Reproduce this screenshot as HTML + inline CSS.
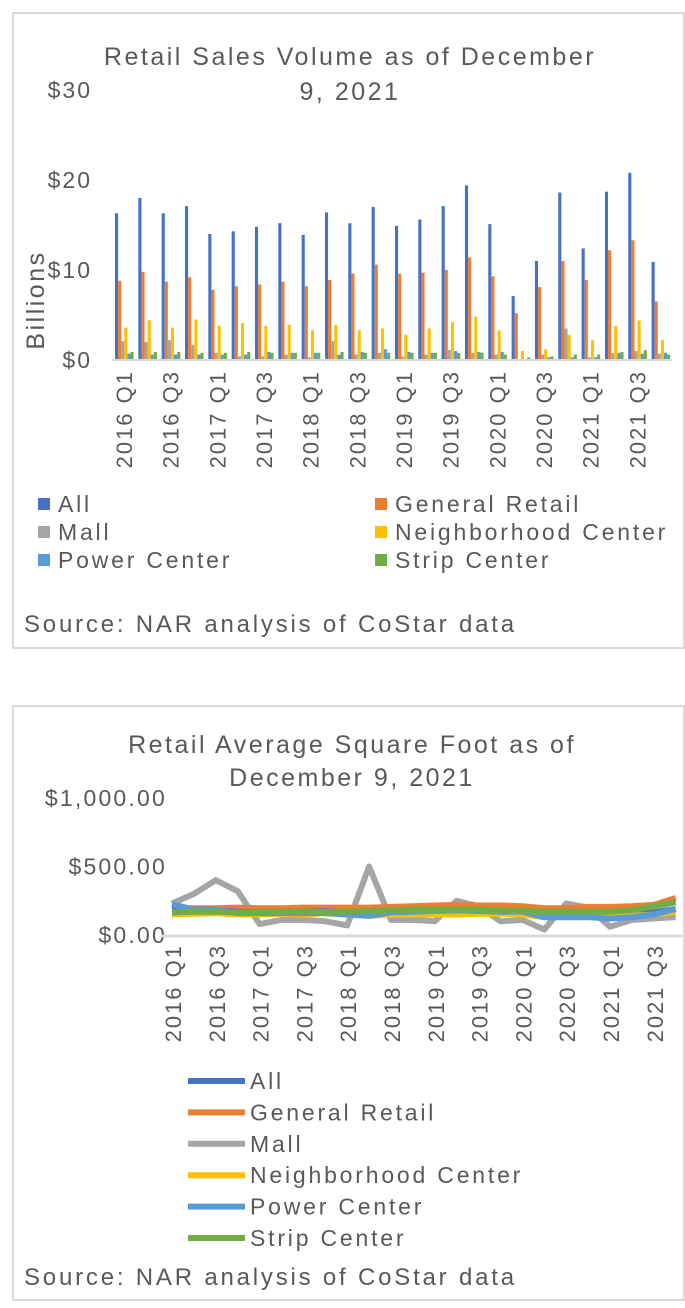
<!DOCTYPE html>
<html><head><meta charset="utf-8">
<style>
html,body{margin:0;padding:0;background:#fff;}
body{width:685px;height:1308px;position:relative;overflow:hidden;font-family:"Liberation Sans",sans-serif;}
svg{position:absolute;left:0;top:0;}
text{font-family:"Liberation Sans",sans-serif;fill:#595959;}
</style></head><body>
<svg id="s" width="685" height="1308">
<rect x="13" y="13" width="671" height="635" fill="#fff" stroke="#d9d9d9" stroke-width="2"/>
<rect x="13" y="706" width="671" height="594" fill="#fff" stroke="#d9d9d9" stroke-width="2"/>
<text x="350" y="65" font-size="25" text-anchor="middle" letter-spacing="2.5">Retail Sales Volume as of December</text>
<text x="350" y="100" font-size="25" text-anchor="middle" letter-spacing="2.5">9, 2021</text>
<text x="44" y="300" font-size="25" text-anchor="middle" letter-spacing="2.5" transform="rotate(-90 44 300)">Billions</text>
<text x="24" y="632" font-size="24" letter-spacing="2.8">Source: NAR analysis of CoStar data</text>
<text x="352" y="753" font-size="25" text-anchor="middle" letter-spacing="2.5">Retail Average Square Foot as of</text>
<text x="352" y="786" font-size="25" text-anchor="middle" letter-spacing="2.5">December 9, 2021</text>
<text x="24" y="1285" font-size="24" letter-spacing="2.8">Source: NAR analysis of CoStar data</text>
<g id="g1"></g><g id="g2"></g>
</svg>
<script>
const quarters=[];for(let y=2016;y<=2021;y++)for(let q=1;q<=4;q++)quarters.push(y+' Q'+q);
const seriesNames=['All','General Retail','Mall','Neighborhood Center','Power Center','Strip Center'];
const colors=['#4472c4','#ed7d31','#a5a5a5','#ffc000','#5b9bd5','#70ad47'];
const volAll=[16.3,18.0,16.3,17.1,14.0,14.3,14.8,15.2,13.9,16.4,15.2,17.0,14.9,15.6,17.1,19.4,15.1,7.1,11.0,18.6,12.4,18.7,20.8,10.9];
const volGeneral=[8.8,9.8,8.7,9.2,7.8,8.2,8.4,8.7,8.2,8.9,9.6,10.6,9.6,9.7,10.0,11.4,9.3,5.2,8.1,11.0,8.9,12.2,13.3,6.5];
const volMall=[2.1,2.0,2.2,1.7,0.8,0.4,0.4,0.6,0.3,2.1,0.6,0.8,0.4,0.6,1.1,0.8,0.6,0.1,0.6,3.5,0.3,0.8,1.0,0.7];
const volNeighborhood=[3.6,4.4,3.6,4.5,3.8,4.1,3.8,3.9,3.3,3.9,3.3,3.5,2.8,3.5,4.2,4.8,3.3,1.0,1.2,2.8,2.2,3.8,4.4,2.2];
const volPower=[0.7,0.6,0.6,0.6,0.6,0.6,0.9,0.8,0.8,0.6,0.9,1.2,0.9,0.8,1.0,0.9,0.9,0.1,0.3,0.3,0.3,0.8,0.7,0.8];
const volStrip=[0.9,0.9,0.9,0.8,0.8,0.9,0.8,0.8,0.8,0.9,0.8,0.8,0.8,0.8,0.8,0.8,0.6,0.3,0.4,0.6,0.6,0.9,1.1,0.6];
const volTicks=[0,10,20,30];
const psfAll=[190,185,180,170,165,170,170,175,160,150,170,175,180,185,180,175,170,150,160,160,150,155,165,190];
const psfGeneral=[200,195,195,200,195,195,200,200,200,200,205,210,215,220,215,215,210,195,195,205,205,210,220,270];
const psfMall=[230,300,400,320,80,110,110,100,70,500,110,110,100,250,210,100,110,40,230,200,60,110,120,130];
const psfNeighborhood=[150,155,160,150,150,155,150,160,150,140,150,150,150,150,155,155,150,130,140,130,130,140,150,170];
const psfPower=[225,185,185,160,160,160,160,160,150,140,165,170,175,180,175,170,170,130,130,130,120,130,150,190];
const psfStrip=[165,170,170,165,165,170,170,170,170,175,180,185,185,185,185,180,175,170,170,170,170,180,210,240];
const psfTicks=[0,500,1000];
const NS='http://www.w3.org/2000/svg';
function mk(p,t,a){const e=document.createElementNS(NS,t);for(const k in a)e.setAttribute(k,a[k]);p.appendChild(e);return e;}
// chart1
const g1=document.getElementById('g1');
const x1=i=>112+i*23.33, y1=v=>360-v*9;
volTicks.forEach(t=>{const tx=mk(g1,'text',{x:92,y:y1(t)+8,'font-size':23,'text-anchor':'end','letter-spacing':2});tx.textContent='$'+t;

});
const vs=[volAll,volGeneral,volMall,volNeighborhood,volPower,volStrip];
vs.forEach((arr,s)=>arr.forEach((v,i)=>{const r=mk(g1,'rect',{x:x1(i)+3+s*3.1,y:y1(v),width:3.1,height:v*9,fill:colors[s]});

}));
mk(g1,'line',{x1:112,x2:672,y1:360,y2:360,stroke:'#d9d9d9','stroke-width':2});
quarters.forEach((q,i)=>{if(i%2)return;const cx=x1(i)+12+8,tx=mk(g1,'text',{x:cx,y:370,'font-size':22,'text-anchor':'end','letter-spacing':2,transform:`rotate(-90 ${cx} 370)`});tx.textContent=q;

});
seriesNames.forEach((n,s)=>{const cx=s%2?375:38,cy=505+Math.floor(s/2)*28;mk(g1,'rect',{x:cx,y:cy-7,width:12,height:12,fill:colors[s]});
const tx=mk(g1,'text',{x:cx+20,y:cy+7,'font-size':23,'letter-spacing':2.8});tx.textContent=n;

});
// chart2
const g2=document.getElementById('g2');
const x2=i=>172+i*21.9, y2=v=>935-v*0.137;
psfTicks.forEach(t=>{const tx=mk(g2,'text',{x:167,y:y2(t)+8,'font-size':23,'text-anchor':'end','letter-spacing':2.2});tx.textContent='$'+t.toLocaleString('en-US')+'.00';

});
mk(g2,'line',{x1:162,x2:682,y1:936,y2:936,stroke:'#d9d9d9','stroke-width':3});
const ps=[psfAll,psfGeneral,psfMall,psfNeighborhood,psfPower,psfStrip];
[2,1,0,3,4,5].forEach(s=>{const pl=mk(g2,'polyline',{points:ps[s].map((v,i)=>x2(i)+','+y2(v)).join(' '),fill:'none',stroke:colors[s],'stroke-width':6,'stroke-linejoin':'round'});

});
quarters.forEach((q,i)=>{if(i%2)return;const cx=x2(i)+9,tx=mk(g2,'text',{x:cx,y:944,'font-size':22,'text-anchor':'end','letter-spacing':2,transform:`rotate(-90 ${cx} 944)`});tx.textContent=q;

});
seriesNames.forEach((n,s)=>{const cy=1081+s*31.4;mk(g2,'line',{x1:188,x2:245,y1:cy,y2:cy,stroke:colors[s],'stroke-width':6});
const tx=mk(g2,'text',{x:250,y:cy+8,'font-size':23,'letter-spacing':2.8});tx.textContent=n;

});
</script>
</body></html>
